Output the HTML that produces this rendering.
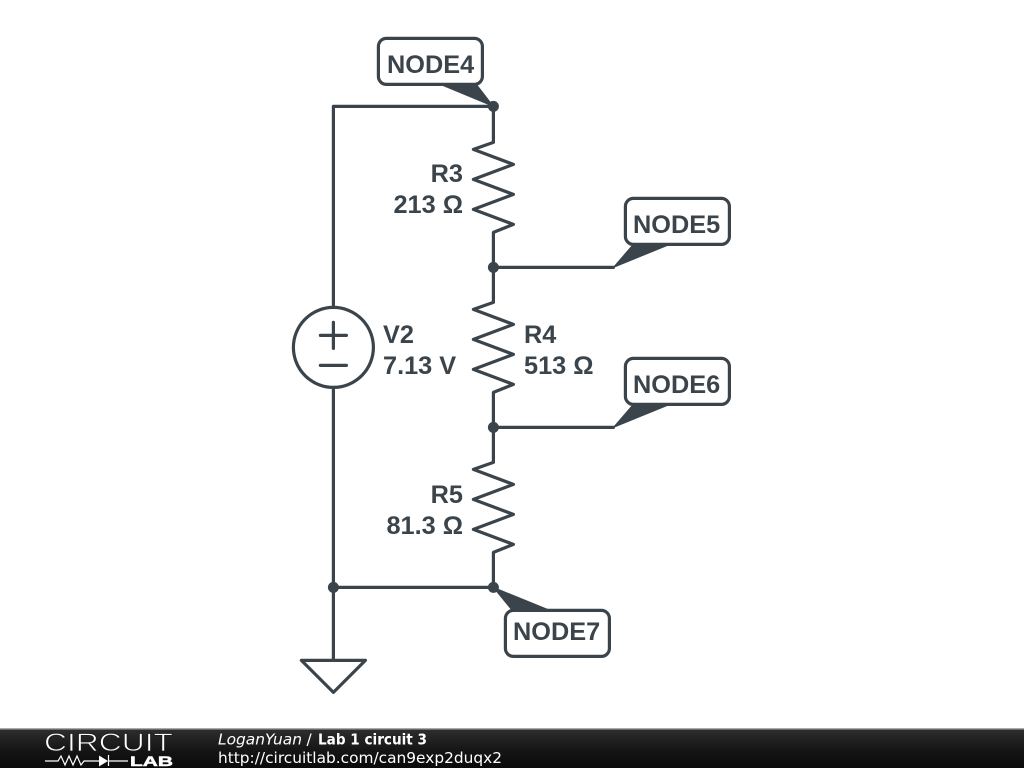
<!DOCTYPE html>
<html><head><meta charset="utf-8"><style>
html,body{margin:0;padding:0;background:#fff;width:1024px;height:768px;overflow:hidden}
svg{display:block}
.l{font:bold 25.3px "Liberation Sans",sans-serif;fill:#3b444b}
.f{font-family:"DejaVu Sans",sans-serif;font-size:15.4px;fill:#fff}
</style></head><body>
<svg width="1024" height="768" viewBox="0 0 1024 768" xmlns="http://www.w3.org/2000/svg">
<defs><linearGradient id="g" x1="0" y1="0" x2="0" y2="1"><stop offset="0" stop-color="#2e2e2e"/><stop offset=".55" stop-color="#151515"/><stop offset="1" stop-color="#0a0a0a"/></linearGradient></defs>
<g transform="translate(.4 .4)">
<g fill="none" stroke="#3b444b" stroke-width="3.2" stroke-linejoin="round" stroke-linecap="round">
<path d="M333 307V106H493V142L473 149L513 164L473 179L513 194L473 209L513 224L493 232V302L473 309L513 324L473 339L513 354L473 369L513 384L493 392V462L473 469L513 484L473 499L513 514L473 529L513 544L493 552V587H333"/>
<path d="M333 387V660"/>
<path d="M493 267H613M493 427H613"/>
<circle cx="333" cy="347" r="40"/>
<path d="M320 335H346M333 322V348M320 365H346"/>
<path d="M301 660H365L333 692Z"/>
<rect x="378" y="38" width="104" height="46" rx="8"/>
<rect x="625" y="198" width="104" height="46" rx="8"/>
<rect x="625" y="358" width="104" height="46" rx="8"/>
<rect x="505" y="610" width="104" height="46" rx="8"/>
</g>
<g fill="#3b444b">
<circle cx="493" cy="106" r="5.5"/><circle cx="493" cy="267" r="5.5"/><circle cx="493" cy="427" r="5.5"/><circle cx="493" cy="587" r="5.5"/><circle cx="333" cy="587" r="5.5"/>
</g>
<g fill="#3b444b" stroke="#3b444b" stroke-width="1" stroke-linejoin="round">
<path d="M440 84H476L493 106Z"/>
<path d="M613 267L632 245H667Z"/>
<path d="M613 427L632 405H667Z"/>
<path d="M493 587L511 609H547Z"/>
</g>
</g>
<text class="l" x="387" y="73">NODE4</text>
<text class="l" x="633" y="233">NODE5</text>
<text class="l" x="633" y="393">NODE6</text>
<text class="l" x="513" y="640">NODE7</text>
<text class="l" x="463" y="182" text-anchor="end">R3</text>
<text class="l" x="463" y="213" text-anchor="end">213 Ω</text>
<text class="l" x="524" y="343">R4</text>
<text class="l" x="524" y="374">513 Ω</text>
<text class="l" x="463" y="503" text-anchor="end">R5</text>
<text class="l" x="463" y="534" text-anchor="end">81.3 Ω</text>
<text class="l" x="383" y="343">V2</text>
<text class="l" x="383" y="374">7.13 V</text>
<rect x="0" y="729" width="1024" height="39" fill="url(#g)"/>
<rect x="0" y="728" width="1024" height="1.5" fill="#aaa"/>
<text x="44" y="751" style="font:25px 'Liberation Sans',sans-serif;fill:#fff;stroke:#1d1d1d;stroke-width:.8" textLength="129" lengthAdjust="spacingAndGlyphs">CIRCUIT</text>
<path d="M45 761H58L61 756L65 765L69 756L73 765L77 756L81 765L84 761H99M108 761H128M108.500 755V766" fill="none" stroke="#fff" stroke-width="1.2"/>
<path d="M99 755.500L108 761L99 766.500Z" fill="#fff"/>
<text x="130" y="766" style="font:bold 14px 'Liberation Sans',sans-serif;fill:#fff;stroke:#fff;stroke-width:.5" textLength="43" lengthAdjust="spacingAndGlyphs">LAB</text>
<text class="f" x="218" y="744.500" font-style="italic" textLength="84" lengthAdjust="spacingAndGlyphs">LoganYuan</text>
<text class="f" x="306.500" y="744.500">/</text>
<text class="f" x="318" y="744.500" font-weight="bold" textLength="109" lengthAdjust="spacingAndGlyphs">Lab 1 circuit 3</text>
<text class="f" x="218" y="763" textLength="284" lengthAdjust="spacingAndGlyphs">http://circuitlab.com/can9exp2duqx2</text>
</svg>
</body></html>
